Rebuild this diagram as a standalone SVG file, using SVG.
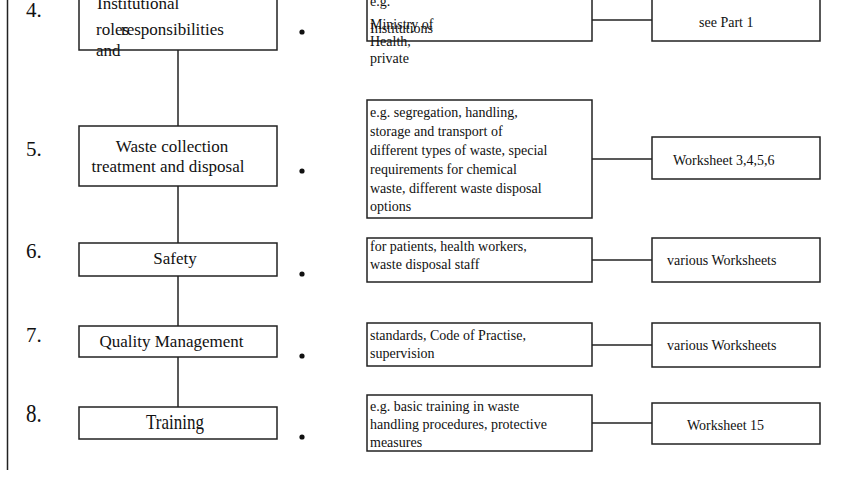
<svg xmlns="http://www.w3.org/2000/svg" width="857" height="477" viewBox="0 0 857 477">
<style>
.box{fill:#fff;stroke:#222;stroke-width:1.5}
.ln{fill:none;stroke:#222;stroke-width:1.5}
text{font-family:"Liberation Serif","Times New Roman",serif;fill:#111}
.num{font-size:21px}
.lbl{font-size:17px}
.sm{font-size:14px}
.dot{fill:#111}
</style>
<rect width="857" height="477" fill="#fff"/>
<g id="connectors">
<line class="ln" x1="7.5" y1="0" x2="7.5" y2="470"/>
<line class="ln" x1="178" y1="50" x2="178" y2="126"/>
<line class="ln" x1="178" y1="186" x2="178" y2="243"/>
<line class="ln" x1="178" y1="276" x2="178" y2="326"/>
<line class="ln" x1="178" y1="357" x2="178" y2="407"/>
<line class="ln" x1="592" y1="20" x2="652" y2="20"/>
<line class="ln" x1="592" y1="159" x2="652" y2="159"/>
<line class="ln" x1="592" y1="260" x2="652" y2="260"/>
<line class="ln" x1="592" y1="345" x2="652" y2="345"/>
<line class="ln" x1="592" y1="423" x2="652" y2="423"/>
</g>
<g id="step4">
<text class="num" x="26" y="17">4.</text>
<rect class="box" x="79" y="-10" width="198" height="60"/>
<text class="lbl" x="97" y="9">Institutional</text>
<text class="lbl" x="96" y="35">roles</text>
<text class="lbl" x="121" y="35">responsibilities</text>
<text class="lbl" x="96" y="56">and</text>
<circle class="dot" cx="302" cy="32" r="2.6"/>
</g>
<g id="detail4">
<rect class="box" x="367" y="-10" width="225" height="51"/>
<text class="sm" x="370" y="6">e.g.</text>
<text class="sm" x="370" y="29">Ministry of</text>
<text class="sm" x="370" y="33">Institutions</text>
<text class="sm" x="370" y="46">Health,</text>
<text class="sm" x="370" y="63">private</text>
</g>
<g id="ref4">
<rect class="box" x="652" y="-10" width="168" height="51"/>
<text class="sm" x="699" y="27">see Part 1</text>
</g>
<g id="step5">
<text class="num" x="26" y="156">5.</text>
<rect class="box" x="79" y="126" width="198" height="60"/>
<text class="lbl" x="172" y="152" text-anchor="middle">Waste collection</text>
<text class="lbl" x="168" y="172" text-anchor="middle">treatment and disposal</text>
<circle class="dot" cx="302" cy="171" r="2.6"/>
</g>
<g id="detail5">
<rect class="box" x="367" y="100" width="225" height="118"/>
<text class="sm" x="370" y="117">e.g. segregation, handling,</text>
<text class="sm" x="370" y="136">storage and transport of</text>
<text class="sm" x="370" y="155">different types of waste, special</text>
<text class="sm" x="370" y="174">requirements for chemical</text>
<text class="sm" x="370" y="193">waste, different waste disposal</text>
<text class="sm" x="370" y="211">options</text>
</g>
<g id="ref5">
<rect class="box" x="652" y="137" width="168" height="42"/>
<text class="sm" x="673" y="165">Worksheet 3,4,5,6</text>
</g>
<g id="step6">
<text class="num" x="26" y="258">6.</text>
<rect class="box" x="79" y="243" width="198" height="33"/>
<text class="lbl" x="175" y="264" text-anchor="middle">Safety</text>
<circle class="dot" cx="302" cy="274" r="2.6"/>
</g>
<g id="detail6">
<rect class="box" x="367" y="238" width="225" height="44"/>
<text class="sm" x="370" y="251">for patients, health workers,</text>
<text class="sm" x="370" y="269">waste disposal staff</text>
</g>
<g id="ref6">
<rect class="box" x="652" y="238" width="168" height="44"/>
<text class="sm" x="667" y="265">various Worksheets</text>
</g>
<g id="step7">
<text class="num" x="26" y="342">7.</text>
<rect class="box" x="79" y="326" width="198" height="31"/>
<text class="lbl" x="171.5" y="347" text-anchor="middle">Quality Management</text>
<circle class="dot" cx="302" cy="356" r="2.6"/>
</g>
<g id="detail7">
<rect class="box" x="367" y="323" width="225" height="43"/>
<text class="sm" x="370" y="340">standards, Code of Practise,</text>
<text class="sm" x="370" y="358">supervision</text>
</g>
<g id="ref7">
<rect class="box" x="652" y="323" width="168" height="44"/>
<text class="sm" x="667" y="350">various Worksheets</text>
</g>
<g id="step8">
<text class="num" transform="translate(26,422) scale(1,1.2)">8.</text>
<rect class="box" x="79" y="407" width="198" height="32"/>
<text class="lbl" transform="translate(175,429) scale(1,1.2)" text-anchor="middle">Training</text>
<circle class="dot" cx="302" cy="437" r="2.6"/>
</g>
<g id="detail8">
<rect class="box" x="367" y="395" width="225" height="56"/>
<text class="sm" x="370" y="411">e.g. basic training in waste</text>
<text class="sm" x="370" y="429">handling procedures, protective</text>
<text class="sm" x="370" y="447">measures</text>
</g>
<g id="ref8">
<rect class="box" x="652" y="403" width="168" height="41"/>
<text class="sm" x="687" y="430">Worksheet 15</text>
</g>
</svg>
